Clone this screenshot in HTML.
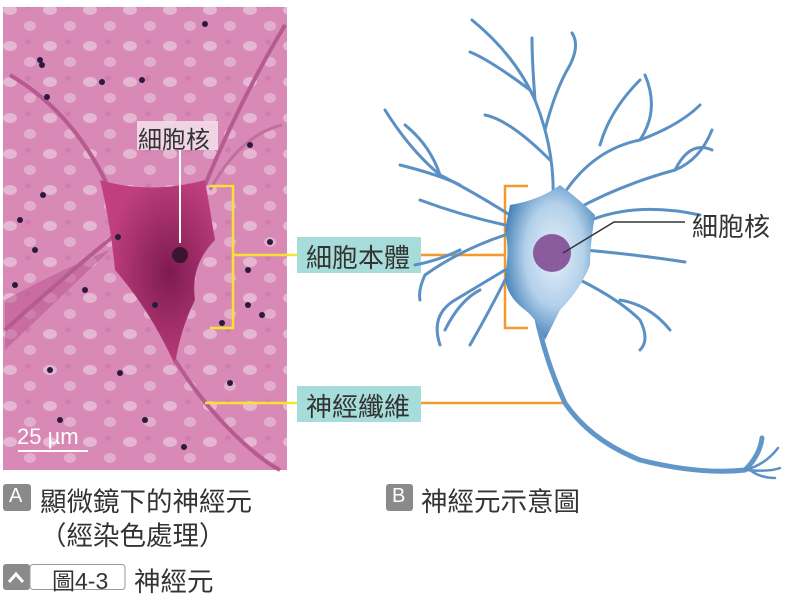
<!DOCTYPE html>
<html><head><meta charset="utf-8"><style>
html,body{margin:0;padding:0;background:#fff;}
body{width:803px;height:603px;overflow:hidden;position:relative;font-family:"Liberation Sans","Noto Sans CJK TC",sans-serif;}
.t{position:absolute;color:#333;white-space:nowrap;}
</style></head><body>
<svg width="803" height="603" style="position:absolute;left:0;top:0">
<defs>
<radialGradient id="soma" cx="0.55" cy="0.45" r="0.6"><stop offset="0" stop-color="#e8f1fa"/><stop offset="0.55" stop-color="#b3d0ea"/><stop offset="1" stop-color="#3a7bb4"/></radialGradient>
<radialGradient id="pk" cx="0.6" cy="0.5" r="0.55"><stop offset="0" stop-color="#7e1a50"/><stop offset="1" stop-color="#c0407e"/></radialGradient>
<pattern id="blot" width="40" height="36" patternUnits="userSpaceOnUse">
<ellipse cx="10" cy="10" rx="7" ry="5" fill="#f2dce8" opacity="0.55"/>
<ellipse cx="30" cy="26" rx="6" ry="5" fill="#eed3e3" opacity="0.5"/>
<ellipse cx="28" cy="6" rx="3" ry="3" fill="#bf6f9d" opacity="0.4"/>
</pattern>
</defs>
<g>
<rect x="3" y="7" width="284" height="463" fill="#d889b6"/>
<rect x="3" y="7" width="284" height="463" fill="url(#blot)"/>
<path d="M5 300 Q60 270 110 250 L5 350Z" fill="#b84f8b" opacity="0.5"/>
<path d="M10 75 Q70 110 105 180 Q120 210 115 235 Q60 280 5 330" stroke="#b65a90" stroke-width="4" fill="none"/>
<path d="M285 25 Q240 100 205 185" stroke="#b65a90" stroke-width="4" fill="none"/>
<path d="M282 125 Q240 135 210 190" stroke="#c0709c" stroke-width="3" fill="none"/>
<path d="M100 180 Q150 195 205 180 L215 240 Q190 265 195 300 Q180 330 175 365 Q150 310 115 270 Q110 220 100 180Z" fill="url(#pk)"/>
<path d="M175 360 Q200 400 230 430 Q260 460 280 470" stroke="#b65a90" stroke-width="4" fill="none"/>
<circle cx="180" cy="255" r="8" fill="#3a1530"/>
<g fill="#2a1a40">
<circle cx="40" cy="60" r="3"/><circle cx="205" cy="24" r="3"/><circle cx="42" cy="65" r="3"/><circle cx="142" cy="80" r="3"/><circle cx="102" cy="82" r="3"/><circle cx="47" cy="97" r="3"/><circle cx="250" cy="145" r="3"/><circle cx="43" cy="195" r="3"/><circle cx="20" cy="220" r="3"/><circle cx="35" cy="250" r="3"/><circle cx="118" cy="237" r="3"/><circle cx="270" cy="242" r="3"/><circle cx="248" cy="270" r="3"/><circle cx="155" cy="305" r="3"/><circle cx="248" cy="305" r="3"/><circle cx="262" cy="315" r="3"/><circle cx="222" cy="323" r="3"/><circle cx="50" cy="370" r="3"/><circle cx="230" cy="383" r="3"/><circle cx="120" cy="373" r="3"/><circle cx="145" cy="420" r="3"/><circle cx="184" cy="447" r="3"/><circle cx="60" cy="420" r="3"/><circle cx="15" cy="285" r="3"/><circle cx="85" cy="290" r="3"/>
</g>
<rect x="137" y="121" width="81" height="29" fill="#f3e3ec" opacity="0.85"/>
<line x1="180" y1="150" x2="180" y2="243" stroke="#fff" stroke-width="2"/>
<line x1="18" y1="451" x2="88" y2="451" stroke="#fff" stroke-width="2"/>
</g>
<g fill="none" stroke-width="2.5">
<path d="M210 186 H233 V328 H210 M233 255 H297" stroke="#f5e331"/>
<path d="M205 403 H297" stroke="#f5e331"/>
<path d="M528 186 H505 V328 H528 M505 255 H421" stroke="#f39a2e"/>
<path d="M421 403 H565" stroke="#f39a2e"/>
</g>
<rect x="297" y="237" width="124" height="36" fill="#a6dcd9"/>
<rect x="297" y="386" width="124" height="36" fill="#a6dcd9"/>
<g fill="none" stroke="#5a90c4" stroke-linecap="round">
<g stroke-width="3">
<path d="M553 200 Q555 150 535 100 Q515 55 472 20"/>
<path d="M535 100 Q532 60 532 38"/>
<path d="M545 130 Q555 90 570 65 Q580 45 572 33"/>
<path d="M530 90 Q490 60 470 52"/>
<path d="M550 160 Q510 120 485 115"/>
<path d="M560 200 Q590 150 640 140 Q680 125 700 105"/>
<path d="M600 145 Q610 110 640 80"/>
<path d="M640 140 Q660 110 645 75"/>
<path d="M575 210 Q620 185 675 170 Q700 160 712 130"/>
<path d="M675 170 Q690 140 712 150"/>
<path d="M580 225 Q630 200 700 215"/>
<path d="M585 250 Q640 255 685 262"/>
<path d="M580 280 Q620 300 640 320 Q650 340 640 350"/>
<path d="M620 300 Q650 305 670 330"/>
<path d="M510 215 Q470 190 440 175 Q410 150 385 110"/>
<path d="M440 175 Q430 145 405 125"/>
<path d="M460 185 Q440 175 400 165"/>
<path d="M505 225 Q460 215 420 200"/>
<path d="M505 235 Q460 250 425 275 Q418 290 420 300"/>
<path d="M460 250 Q440 260 415 265"/>
<path d="M505 270 Q480 285 455 300 Q430 315 440 345"/>
<path d="M480 290 Q460 300 445 330"/>
<path d="M505 280 Q490 310 470 345"/>
</g>
<path d="M535 310 Q545 360 565 403 Q590 440 640 460 Q700 475 745 470 Q760 455 762 438" stroke-width="5" stroke="#6197c8"/>
<path d="M745 470 Q765 465 778 448 M745 470 Q770 472 780 468 M750 470 Q760 478 775 478" stroke-width="2.5"/>
</g>
<path d="M510 205 Q540 200 560 185 Q580 200 595 215 Q590 245 590 265 Q580 290 560 310 Q550 330 545 340 Q538 320 525 310 Q505 295 505 275 Q510 250 505 230Z" fill="url(#soma)"/>
<circle cx="552" cy="253" r="19" fill="#8a5c9e"/>
<polyline points="563,253 614,222 685,222" fill="none" stroke="#333" stroke-width="1.5"/>
<g>
<rect x="3" y="484" width="28" height="27" rx="3" fill="#8a8a8a"/>
<rect x="386" y="484" width="27" height="27" rx="3" fill="#8a8a8a"/>
<rect x="3" y="564" width="27" height="26" rx="3" fill="#8a8a8a"/>
<path d="M9 582 L16 574 L23 582" stroke="#fff" stroke-width="3" fill="none"/>
<rect x="30" y="564.5" width="95" height="25" rx="3" fill="#fff" stroke="#999"/>
</g>
</svg>
<div class="t" style="left:138px;top:120px;font-size:24px;">細胞核</div>
<div class="t" style="left:17px;top:424px;font-size:22px;color:#fff;">25 µm</div>
<div class="t" style="left:306px;top:238px;font-size:26px;">細胞本體</div>
<div class="t" style="left:306px;top:387px;font-size:26px;">神經纖維</div>
<div class="t" style="left:692px;top:207px;font-size:26px;">細胞核</div>
<div class="t" style="left:9px;top:485px;font-size:20px;color:#fff;">A</div>
<div class="t" style="left:40px;top:480px;font-size:26.5px;">顯微鏡下的神經元</div>
<div class="t" style="left:40px;top:514px;font-size:26.5px;">（經染色處理）</div>
<div class="t" style="left:392px;top:485px;font-size:20px;color:#fff;">B</div>
<div class="t" style="left:421px;top:480px;font-size:26.5px;">神經元示意圖</div>
<div class="t" style="left:52px;top:562px;font-size:23px;">圖4-3</div>
<div class="t" style="left:134px;top:560px;font-size:26.5px;">神經元</div>
</body></html>
